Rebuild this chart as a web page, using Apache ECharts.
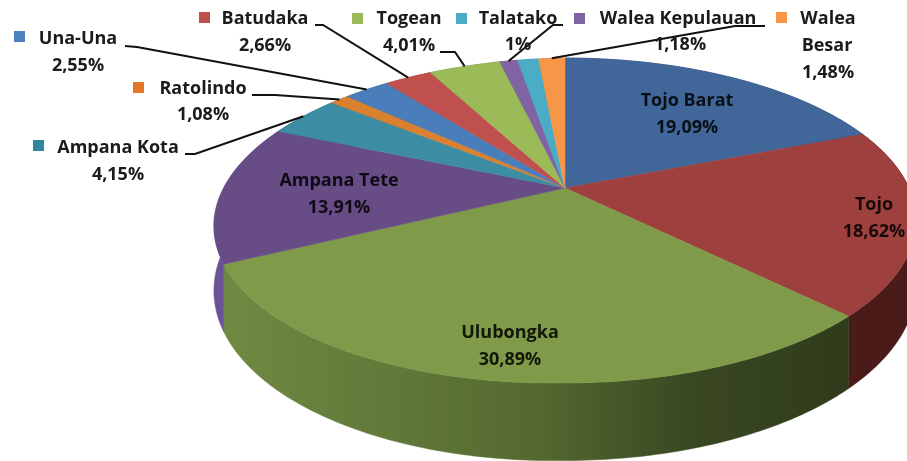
<!DOCTYPE html>
<html>
<head>
<meta charset="UTF-8">
<title>Pie 3D</title>
<style>
html,body{margin:0;padding:0;background:#fff;}
#picContainer{width:907px;height:461px;filter:blur(0.45px);}
</style>
</head>
<body>
<div id="picContainer"></div>
<script src="https://cdn.jsdelivr.net/npm/echarts@6/dist/echarts.min.js"></script>
<script>
// slices, clockwise from 12 o'clock
var names = ['Tojo Barat','Tojo','Ulubongka','Ampana Tete','Ampana Kota','Ratolindo','Una-Una','Batudaka','Togean','Talatako','Walea Kepulauan','Walea Besar'];
var values = [19.09,18.62,30.89,13.91,4.15,1.08,2.55,2.66,4.01,1,1.18,1.48];
var sliceColors = ['#41679a','#9e413e','#7f9a48','#674c86','#3c8ca3','#d9812f','#4a7ebb','#c0504d','#9bbb59','#8064a2','#4bacc6','#f79646'];
var sideColors = ['#2c4568','#4a1b19','#3f4f24','#6b5296','#28606f','#8f5520','#33567f','#803633','#667c3b','#57446e','#327485','#a86630'];
var keyColors = ['#4f81bd','#c0504d','#9bbb59','#8064a2','#31859c','#e4762a','#4f81bd','#c0504d','#9bbb59','#4bacc6','#8064a2','#f79646'];

// outside labels: text anchor positions, only layout
var outside = [
    {i:6, key:[20,37], text:[[78,39]], pct:[78,66], elbow:[[125,46],[137,47]]},
    {i:7, key:[205,18], text:[[265,19]], pct:[265,46], elbow:[[315,25],[323,25]]},
    {i:8, key:[358,19], text:[[409,19]], pct:[409,46], elbow:[[440,52],[455,52]]},
    {i:9, key:[462,19], text:[[518,19]], pct:[518,45], elbow:[[563,25],[553,25]]},
    {i:10, key:[580,19], text:[[678,19]], pct:[680,45]},
    {i:11, key:[782,18], text:[[828,19],[827,46]], pct:[828,73], elbow:[[765,26],[735,26]]},
    {i:5, key:[139,88], text:[[203,89]], pct:[203,115], elbow:[[252,95],[275,95]]},
    {i:4, key:[39,146], text:[[118,148]], pct:[118,175], elbow:[[185,154],[195,154]]}
];
var inside = [
    {i:0, x:687, y:101},
    {i:1, x:874, y:205},
    {i:2, x:510, y:333},
    {i:3, x:339, y:181}
];

// perspective of the tilted disc, left side sags a little
var cx = 565, cy = 188, rx = 344, ry = 156, persp = 0.2, depth = 62, sag = 0.016;
var total = 0;
for (var n = 0; n < values.length; n++) total += values[n];

function project(angle, r, drop){
    var u = Math.sin(angle) * r, v = -Math.cos(angle) * r;
    var w = 1 - persp * v;
    var x = cx + rx * u / w;
    return [x, cy + (ry * v + (drop || 0)) / w + sag * Math.max(0, cx - x)];
}
function sliceAngles(i){
    var sum = 0;
    for (var k = 0; k < i; k++) sum += values[k];
    return [sum / total * Math.PI * 2, (sum + values[i]) / total * Math.PI * 2];
}
function arc(a0, a1, drop){
    var pts = [], steps = Math.max(4, Math.ceil((a1 - a0) * 60));
    for (var s = 0; s <= steps; s++) pts.push(project(a0 + (a1 - a0) * s / steps, 1, drop));
    return pts;
}
function pctText(v){
    return String(v).replace('.', ',') + '%';
}
function wallFill(i){
    if (i == 2) {
        return new echarts.graphic.LinearGradient(222, 0, 845, 0, [
            {offset:0, color:'#708a42'},
            {offset:0.3, color:'#5f7738'},
            {offset:0.5, color:'#55692f'},
            {offset:0.75, color:'#3a4822'},
            {offset:1, color:'#2f3b1a'}
        ], true);
    }
    return sideColors[i];
}

function renderWall(params){
    var i = params.dataIndex, a = sliceAngles(i);
    var pts = arc(a[0], a[1], 0).concat(arc(a[0], a[1], depth).reverse());
    var fill = wallFill(i);
    return {type:'polygon', shape:{points:pts}, style:{fill:fill, stroke:fill, lineWidth:0.5}};
}
function renderTop(params){
    var i = params.dataIndex, a = sliceAngles(i);
    var pts = [project(0, 0)].concat(arc(a[0], a[1], 0));
    return {type:'polygon', shape:{points:pts}, style:{fill:sliceColors[i], stroke:sliceColors[i], lineWidth:0.5}};
}

var font = 'bold 18px "Open Sans", sans-serif';
var textColor = '#1b1b1b';
function textEl(str, pos, fill, opacity){
    return {type:'text', x:pos[0], y:pos[1], z:20, silent:true,
        style:{text:str, font:font, fill:fill, opacity:opacity || 1, align:'center', verticalAlign:'middle'}};
}
var elements = [];
outside.forEach(function(o){
    elements.push({type:'rect', shape:{x:o.key[0]-6, y:o.key[1]-6, width:11, height:11}, style:{fill:keyColors[o.i]}, z:20, silent:true});
    var parts = names[o.i] == 'Walea Besar' ? ['Walea','Besar'] : [names[o.i]];
    parts.forEach(function(p, k){ elements.push(textEl(p, o.text[k], textColor)); });
    elements.push(textEl(pctText(values[o.i]), o.pct, textColor));
    if (o.elbow) {
        var a = sliceAngles(o.i);
        elements.push({type:'polyline', z:19, silent:true,
            shape:{points:o.elbow.concat([project((a[0] + a[1]) / 2, 1.0)])},
            style:{stroke:'#111', lineWidth:2, fill:null}});
    }
});
inside.forEach(function(o){
    elements.push(textEl(names[o.i], [o.x, o.y], '#000', 0.85));
    elements.push(textEl(pctText(values[o.i]), [o.x, o.y + 27], '#000', 0.85));
});

var myChart = echarts.init(document.getElementById('picContainer'));
option = {
    animation: false,
    backgroundColor: '#fff',
    graphic: {elements: elements},
    series: [
        {type:'custom', coordinateSystem:'none', renderItem:renderWall, data:values, silent:true, z:1},
        {type:'custom', coordinateSystem:'none', renderItem:renderTop, data:values, silent:true, z:2}
    ]
};
myChart.setOption(option);
</script>
</body>
</html>
